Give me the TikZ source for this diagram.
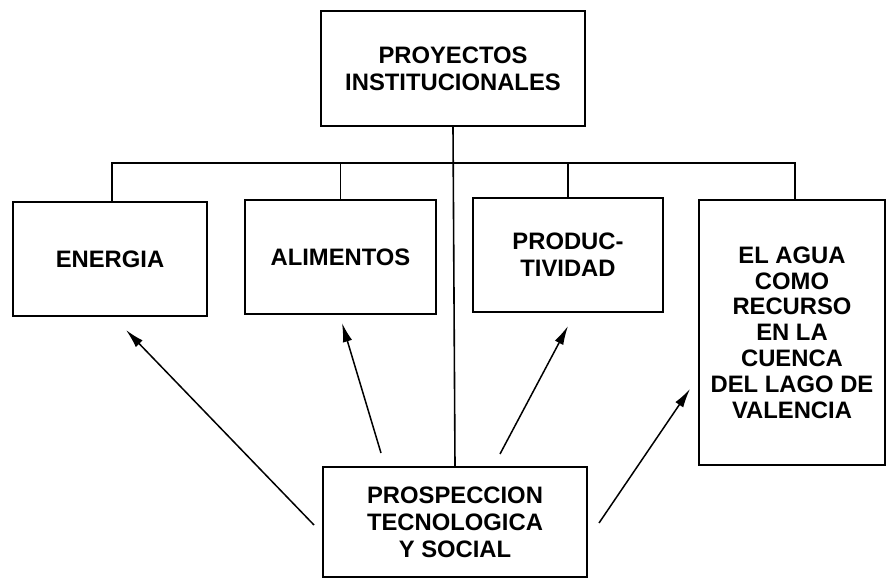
\documentclass[tikz,border=0pt]{standalone}
\usepackage{fontspec}
\setmainfont{Liberation Sans}
\usetikzlibrary{arrows.meta}
\begin{document}
\begin{tikzpicture}[x=1pt,y=-1pt,
  boxnode/.style={draw,line width=1.8pt,rectangle,inner sep=0pt,align=center,
    font=\fontsize{23.8}{27}\selectfont\bfseries},
  link/.style={line width=1.6pt},
  arr/.style={line width=1.5pt,-{Latex[length=19pt,width=9.5pt]}}]
\useasboundingbox (0,0) rectangle (886,580);
\node[boxnode,minimum width=264pt,minimum height=115pt] (top) at (453,68.5) {PROYECTOS\\INSTITUCIONALES};
\node[boxnode,minimum width=194pt,minimum height=114pt] (e) at (110,259) {ENERGIA};
\node[boxnode,minimum width=191pt,minimum height=114pt] (a) at (340.5,257) {ALIMENTOS};
\node[boxnode,minimum width=190pt,minimum height=114pt] (p) at (568,255) {PRODUC-\\TIVIDAD};
\node[boxnode,minimum width=186pt,minimum height=265pt,font=\fontsize{23.8}{25.8}\selectfont\bfseries] (w) at (792,332.5) {EL AGUA\\COMO\\RECURSO\\EN LA\\CUENCA\\DEL LAGO DE\\VALENCIA};
\node[boxnode,minimum width=264pt,minimum height=110pt] (b) at (455,522) {PROSPECCION\\TECNOLOGICA\\Y SOCIAL};
\coordinate (busL) at (112,163);
\coordinate (busR) at (795,163);
\draw[link] (top.south) -- (b.north);
\draw[link] (e.north -| busL) -- (busL) -- (busR) -- (w.north -| busR);
\draw[link] (a.north) -- (a.north |- busL);
\draw[link] (p.north) -- (p.north |- busL);
\coordinate (t1) at (314,525); \coordinate (h1) at (126,330);
\coordinate (t2) at (381,453); \coordinate (h2) at (342,323);
\coordinate (t3) at (500,454); \coordinate (h3) at (568,326);
\coordinate (t4) at (599,523); \coordinate (h4) at (690,389);
\draw[arr] (t1) -- (h1);
\draw[arr] (t2) -- (h2);
\draw[arr] (t3) -- (h3);
\draw[arr] (t4) -- (h4);
\end{tikzpicture}
\end{document}
